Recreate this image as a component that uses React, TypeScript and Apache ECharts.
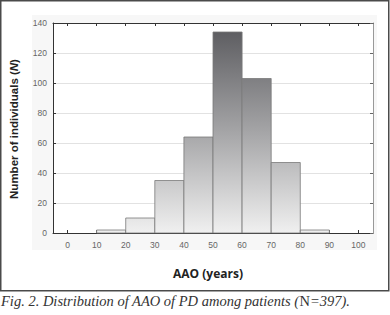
import React, { useEffect, useRef } from "react";
import * as echarts from "echarts";

const binStarts = [10, 20, 30, 40, 50, 60, 70, 80];
const binWidth = 10;
const counts = [2, 10, 35, 64, 134, 103, 47, 2];
const xTicks = [0, 10, 20, 30, 40, 50, 60, 70, 80, 90, 100];
const yTicks = [0, 20, 40, 60, 80, 100, 120, 140];

const GRID = { left: 53, right: 17, top: 23, bottom: 82 };

export default function App() {
  const ref = useRef<HTMLDivElement>(null);
  useEffect(() => {
    if (!ref.current) return;
    const chart = echarts.init(ref.current, undefined, { renderer: "svg" });
    const data = binStarts.map((s, i) => [s, s + binWidth, counts[i]]);
    const fill = new echarts.graphic.LinearGradient(
      0, GRID.top, 0, 315 - GRID.bottom,
      [
        { offset: 0, color: "#58585c" },
        { offset: 0.5, color: "#a2a2a4" },
        { offset: 1, color: "#f0f0f0" },
      ],
      true
    );
    const tickCommon = { show: true, inside: true, length: 3, lineStyle: { color: "#333", width: 1 } };
    chart.setOption({
      animation: false,
      backgroundColor: "#ffffff",
      graphic: [
        { type: "rect", z: -10, shape: { x: 32, y: 15, width: 345, height: 235 }, style: { fill: "#f7f7f7" }, silent: true },
        { type: "rect", z: -9, shape: { x: GRID.left, y: GRID.top, width: 390 - GRID.left - GRID.right, height: 315 - GRID.top - GRID.bottom }, style: { fill: "#ffffff" }, silent: true },
        { type: "rect", shape: { x: 0.75, y: 0.75, width: 388, height: 290 }, style: { fill: "none", stroke: "#4a4a4a", lineWidth: 1.5 }, silent: true },
        {
          type: "text", left: 1, top: 293,
          style: {
            text: "{i|Fig. 2. Distribution of AAO of PD among patients (}{n|N}{i|=397).}",
            rich: {
              i: { fontFamily: "Liberation Serif", fontStyle: "italic", fontSize: 14.5, fill: "#333" },
              n: { fontFamily: "Liberation Serif", fontStyle: "normal", fontSize: 14.5, fill: "#333" },
            },
          },
        },
        {
          type: "text", x: 14, y: 129, rotation: Math.PI / 2,
          style: {
            text: "{b|Number of individuals (}{bi|N}{b|)}",
            align: "center", verticalAlign: "middle",
            rich: {
              b: { fontFamily: "Liberation Sans", fontWeight: "bold", fontSize: 11.5, fill: "#222" },
              bi: { fontFamily: "Liberation Sans", fontWeight: "bold", fontStyle: "italic", fontSize: 11.5, fill: "#222" },
            },
          },
        },
        {
          type: "text", x: 208, y: 273,
          style: { text: "AAO (years)", align: "center", verticalAlign: "middle", fontFamily: "Open Sans", fontWeight: "bold", fontSize: 12, fill: "#222" },
        },
      ],
      grid: { ...GRID },
      xAxis: [
        {
          type: "value", min: -5, max: 105, position: "bottom",
          axisLine: { show: true, onZero: false, lineStyle: { color: "#333", width: 1 } },
          axisTick: { ...tickCommon, customValues: xTicks },
          axisLabel: { customValues: xTicks, fontSize: 8.5, color: "#666", fontFamily: "Liberation Sans", margin: 7 },
          splitLine: { show: false },
        },
        {
          type: "value", min: -5, max: 105, position: "top",
          axisLine: { show: true, onZero: false, lineStyle: { color: "#333", width: 1 } },
          axisTick: { ...tickCommon, customValues: xTicks },
          axisLabel: { show: false },
          splitLine: { show: false },
        },
      ],
      yAxis: [
        {
          type: "value", min: 0, max: 140, interval: 20, position: "left",
          axisLine: { show: true, onZero: false, lineStyle: { color: "#333", width: 1 } },
          axisTick: { ...tickCommon },
          axisLabel: { fontSize: 8.5, color: "#666", fontFamily: "Liberation Sans", margin: 6, customValues: yTicks },
          splitLine: { show: true, lineStyle: { color: "#e2e2e2", width: 1 } },
        },
        {
          type: "value", min: 0, max: 140, interval: 20, position: "right",
          axisLine: { show: true, onZero: false, lineStyle: { color: "#999", width: 1 } },
          axisTick: { ...tickCommon, lineStyle: { color: "#666", width: 1 } },
          axisLabel: { show: false },
          splitLine: { show: false },
        },
      ],
      series: [
        {
          type: "custom",
          xAxisIndex: 0,
          yAxisIndex: 0,
          data,
          encode: { x: [0, 1], y: 2 },
          renderItem: (params: any, api: any) => {
            const lo = api.value(0), hi = api.value(1), c = api.value(2);
            const p0 = api.coord([lo, c]);
            const p1 = api.coord([hi, 0]);
            return {
              type: "rect",
              shape: { x: p0[0], y: p0[1], width: p1[0] - p0[0], height: p1[1] - p0[1] },
              style: { fill, stroke: "#7a7a7a", lineWidth: 0.8 },
            };
          },
        },
      ],
    });
    return () => chart.dispose();
  }, []);
  return <div ref={ref} style={{ position: "fixed", left: 0, top: 0, width: 390, height: 315 }} />;
}
